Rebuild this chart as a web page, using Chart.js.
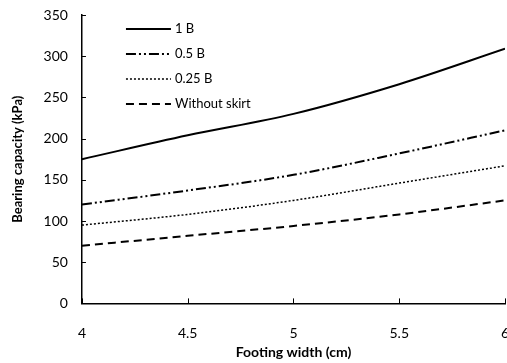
<!DOCTYPE html>
<html>
<head>
<meta charset="utf-8">
<script src="https://cdn.jsdelivr.net/npm/chart.js@4/dist/chart.umd.min.js"></script>
<style>
  html, body { margin: 0; padding: 0; background: #fff; }
  #wrap { width: 507px; height: 363px; }
</style>
</head>
<body>
<div id="wrap"><canvas id="chart"></canvas></div>
<script>
// Bearing capacity vs footing width
const widths = [4, 4.5, 5, 5.5, 6];
const skirt1B = [175, 204, 230, 266, 309];
const skirt05B = [120, 137, 156, 182, 210];
const skirt025B = [95, 108, 125, 146, 167];
const noSkirt = [70, 82, 94, 108, 125];
const seriesLabels = ['1 B', '0.5 B', '0.25 B', 'Without skirt'];

const FONT = 'Lato, "Open Sans", sans-serif';

function makeSet(label, values, dash, width) {
    return {
        label: label,
        data: widths.map((w, i) => ({ x: w, y: values[i] })),
        borderColor: '#000',
        backgroundColor: '#000',
        borderWidth: width,
        borderDash: dash,
        pointRadius: 0,
        fill: false,
        cubicInterpolationMode: 'monotone'
    };
}

// legend inside the plot, upper left
const insideLegend = {
    id: 'insideLegend',
    afterDraw(chart) {
        const ctx = chart.ctx;
        const area = chart.chartArea;
        const x0 = area.left + 44, x1 = area.left + 89;
        ctx.save();
        ctx.font = '13px ' + FONT;
        ctx.textBaseline = 'middle';
        chart.data.datasets.forEach((ds, i) => {
            const y = area.top + 14 + i * 25;
            ctx.strokeStyle = '#000';
            ctx.lineWidth = ds.borderWidth;
            ctx.setLineDash(ds.borderDash || []);
            ctx.beginPath();
            ctx.moveTo(x0, y);
            ctx.lineTo(x1, y);
            ctx.stroke();
            ctx.setLineDash([]);
            ctx.fillStyle = '#000';
            ctx.fillText(ds.label, x1 + 4, y);
        });
        ctx.restore();
    }
};

// short tick marks pointing into the plot
const innerTicks = {
    id: 'innerTicks',
    afterDraw(chart) {
        const ctx = chart.ctx;
        const xs = chart.scales.x, ys = chart.scales.y;
        ctx.save();
        ctx.strokeStyle = '#000';
        ctx.lineWidth = 1;
        ys.ticks.forEach(t => {
            const y = Math.round(ys.getPixelForValue(t.value)) + 0.5;
            ctx.beginPath();
            ctx.moveTo(xs.left, y);
            ctx.lineTo(xs.left + 4, y);
            ctx.stroke();
        });
        xs.ticks.forEach(t => {
            const x = Math.round(xs.getPixelForValue(t.value)) + 0.5;
            ctx.beginPath();
            ctx.moveTo(x, ys.bottom);
            ctx.lineTo(x, ys.bottom - 5);
            ctx.stroke();
        });
        ctx.restore();
    }
};

new Chart(document.getElementById('chart'), {
    type: 'line',
    data: {
        datasets: [
            makeSet(seriesLabels[0], skirt1B, [], 2),
            makeSet(seriesLabels[1], skirt05B, [10, 3, 2, 3, 2, 3], 2),
            makeSet(seriesLabels[2], skirt025B, [2, 2], 1.5),
            makeSet(seriesLabels[3], noSkirt, [8, 5], 2)
        ]
    },
    options: {
        responsive: true,
        maintainAspectRatio: false,
        animation: false,
        layout: { padding: { top: 3, right: 0, bottom: 2, left: 10 } },
        plugins: {
            legend: { display: false },
            tooltip: { enabled: false }
        },
        scales: {
            x: {
                type: 'linear',
                min: 4,
                max: 6,
                grid: { display: false, drawTicks: false },
                border: { color: '#000', width: 1.5 },
                ticks: {
                    stepSize: 0.5,
                    padding: 22,
                    color: '#000',
                    font: { family: FONT, size: 14 },
                    callback: v => String(v)
                },
                title: {
                    display: true,
                    text: 'Footing width (cm)',
                    color: '#000',
                    padding: { top: -20, bottom: 0 },
                    font: { family: FONT, size: 14, weight: 'bold' }
                },
                afterFit(scale) {
                    // the big label gap should not eat horizontal room
                    scale.paddingLeft = 0;
                    scale.paddingRight = 2;
                }
            },
            y: {
                min: 0,
                max: 350,
                grid: { display: false, drawTicks: false },
                border: { color: '#000', width: 1.5 },
                ticks: {
                    stepSize: 50,
                    padding: 14,
                    color: '#000',
                    font: { family: FONT, size: 14 }
                },
                title: {
                    display: true,
                    text: 'Bearing capacity (kPa)',
                    color: '#000',
                    padding: { top: 0, bottom: 4 },
                    font: { family: FONT, size: 13, weight: 'bold' }
                },
                afterFit(scale) {
                    scale.paddingTop = 15;
                }
            }
        }
    },
    plugins: [insideLegend, innerTicks]
});
</script>
</body>
</html>
